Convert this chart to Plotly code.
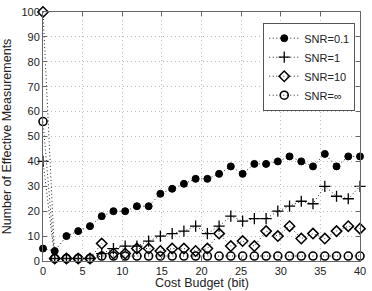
import plotly.graph_objects as go

cost_budget = [0.00, 1.48, 2.96, 4.44, 5.93, 7.41, 8.89, 10.37, 11.85, 13.33,
               14.81, 16.30, 17.78, 19.26, 20.74, 22.22, 23.70, 25.19, 26.67,
               28.15, 29.63, 31.11, 32.59, 34.07, 35.56, 37.04, 38.52, 40.00]

snr_01 = [5, 4, 10, 12, 14, 18, 20, 20, 22, 22, 27, 29, 31, 33, 33, 35, 38, 35,
          39, 39, 40, 42, 40, 38, 43, 38, 42, 42]
snr_1 = [40, 1, 1, 1, 1, 3, 5, 6, 6, 8, 10, 11, 12, 14, 11, 14, 18, 16, 17, 17,
         20, 22, 24, 23, 30, 26, 25, 30]
snr_10 = [100, 1, 1, 1, 1, 7, 3, 3, 5, 5, 4, 5, 5, 4, 5, 11, 6, 8, 6, 12, 10,
          14, 9, 11, 9, 12, 14, 13]
snr_inf = [56, 1, 1, 1, 1, 2, 2, 2, 2, 2, 2, 2, 2, 2, 2, 2, 2, 2, 2, 2, 2, 2,
           2, 2, 2, 2, 2, 2]

names = ["SNR=0.1", "SNR=1", "SNR=10", "SNR=\u221e"]
series = [snr_01, snr_1, snr_10, snr_inf]
symbols = ["circle", "cross-thin-open", "diamond-open", "circle-open"]
sizes = [7, 8, 8, 8]
widths = [1, 1.3, 1.5, 1.6]

fig = go.Figure()
for name, ys, sym, sz, lw in zip(names, series, symbols, sizes, widths):
    fig.add_trace(go.Scatter(
        x=cost_budget, y=ys, name=name, mode="lines+markers",
        line=dict(color="#222", width=1, dash="1px,2.5px"),
        marker=dict(symbol=sym, size=sz, color="black",
                    line=dict(color="black", width=lw)),
        cliponaxis=False,
    ))

axis_common = dict(
    showgrid=True, gridcolor="#bdbdbd", griddash="1px,3px", gridwidth=1,
    showline=True, linecolor="#666", linewidth=1, mirror="allticks",
    ticks="inside", ticklen=4, tickcolor="#666", zeroline=False,
    tickfont=dict(family="Liberation Sans, Arial", size=11, color="#222"),
)

fig.update_layout(
    width=372, height=291,
    margin=dict(l=42, r=6, t=8, b=30),
    paper_bgcolor="white", plot_bgcolor="white",
    showlegend=True,
    legend=dict(x=0.985, y=0.957, xanchor="right", yanchor="top",
                bgcolor="white", bordercolor="#555", borderwidth=1,
                font=dict(family="Liberation Sans, Arial", size=11, color="#222"),
                itemwidth=30, tracegroupgap=0),
    xaxis=dict(range=[0, 40], tickvals=[0, 5, 10, 15, 20, 25, 30, 35, 40],
               **axis_common),
    yaxis=dict(range=[0, 100], tickvals=list(range(0, 101, 10)),
               title=dict(text="Number of Effective Measurements", standoff=7,
                          font=dict(family="Liberation Sans, Arial", size=12.5, color="#222")),
               **axis_common),
    annotations=[dict(text="Cost Budget (bit)", xref="paper", yref="paper",
                      x=0.5, y=-0.087, xanchor="center", yanchor="middle",
                      showarrow=False,
                      font=dict(family="Liberation Sans, Arial", size=12.5, color="#222"))],
)

fig.write_html("out.html")
